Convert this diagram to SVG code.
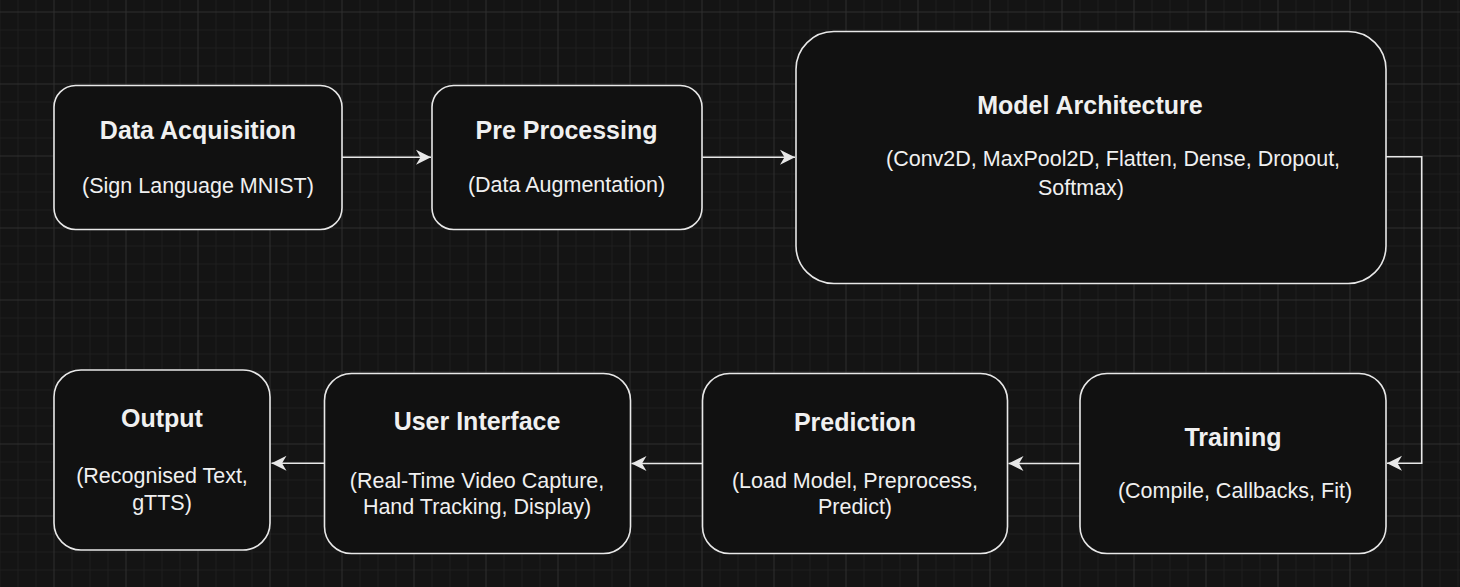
<svg xmlns="http://www.w3.org/2000/svg" width="1460" height="587" viewBox="0 0 1460 587">
  <style>
    .box { fill: #111111; stroke: #e8e8e8; stroke-width: 1.6; }
    .title { font-family: "Liberation Sans", Arial, Helvetica, sans-serif; font-weight: bold; font-size: 25px; fill: #f0f0f0; text-anchor: middle; }
    .sub { font-family: "Liberation Sans", Arial, Helvetica, sans-serif; font-size: 21.5px; fill: #f0f0f0; text-anchor: middle; }
    .subl { font-family: "Liberation Sans", Arial, Helvetica, sans-serif; font-size: 21.5px; fill: #f0f0f0; }
    .conn { fill: none; stroke: #e8e8e8; stroke-width: 1.6; marker-end: url(#arrow); }
  </style>
  <defs>
    <pattern id="grid" patternUnits="userSpaceOnUse" x="53.5" y="11.5" width="72" height="72">
      <path d="M18.5 0 V72 M36.5 0 V72 M54.5 0 V72 M0 18.5 H72 M0 36.5 H72 M0 54.5 H72" stroke="#1e1e1e" stroke-width="1" fill="none"/>
      <path d="M0.5 0 V72 M0 0.5 H72" stroke="#2e2e2e" stroke-width="1" fill="none"/>
    </pattern>
    <marker id="arrow" markerUnits="userSpaceOnUse" viewBox="-16 -8 17 16" refX="0" refY="0" markerWidth="17" markerHeight="16" orient="auto">
      <path d="M0 0 L-15 -7.5 L-10.5 0 L-15 7.5 Z" fill="#e8e8e8"/>
    </marker>
  </defs>
  <rect width="1460" height="587" fill="#141414"/>
  <rect width="1460" height="587" fill="url(#grid)"/>

  <g id="connectors">
    <path class="conn" d="M342 157.3 L431 157.3"/>
    <path class="conn" d="M702.3 157.3 L795 157.3"/>
    <path class="conn" d="M1386 156.7 L1421.7 156.7 L1421.7 463.3 L1387 463.3"/>
    <path class="conn" d="M1080 463.5 L1008.5 463.5"/>
    <path class="conn" d="M702.5 463.5 L631.5 463.5"/>
    <path class="conn" d="M324.5 463.3 L271.5 463.3"/>
  </g>

  <g id="data-acquisition">
    <rect class="box" x="54" y="85.5" width="288" height="144" rx="21.6"/>
    <text class="title" x="198" y="138.5">Data Acquisition</text>
    <text class="sub" x="198" y="192.5">(Sign Language MNIST)</text>
  </g>

  <g id="pre-processing">
    <rect class="box" x="432" y="85.5" width="270" height="144" rx="21.6"/>
    <text class="title" x="566.5" y="139">Pre Processing</text>
    <text class="sub" x="566.5" y="191.7">(Data Augmentation)</text>
  </g>

  <g id="model-architecture">
    <rect class="box" x="796" y="31.5" width="590" height="252" rx="37.8"/>
    <text class="title" x="1090" y="114">Model Architecture</text>
    <text class="subl" x="886" y="166">(Conv2D, MaxPool2D, Flatten, Dense, Dropout,</text>
    <text class="subl" x="1038" y="195">Softmax)</text>
  </g>

  <g id="training">
    <rect class="box" x="1080" y="373.5" width="306" height="180" rx="27"/>
    <text class="title" x="1233" y="446">Training</text>
    <text class="sub" x="1235" y="497.7">(Compile, Callbacks, Fit)</text>
  </g>

  <g id="prediction">
    <rect class="box" x="702.5" y="373.5" width="305" height="180" rx="27"/>
    <text class="title" x="855" y="431">Prediction</text>
    <text class="sub" x="855" y="488.3">(Load Model, Preprocess,</text>
    <text class="sub" x="855" y="514.3">Predict)</text>
  </g>

  <g id="user-interface">
    <rect class="box" x="324.5" y="373.5" width="306" height="180" rx="27"/>
    <text class="title" x="477" y="430">User Interface</text>
    <text class="sub" x="477" y="488.3">(Real-Time Video Capture,</text>
    <text class="sub" x="477" y="514.3">Hand Tracking, Display)</text>
  </g>

  <g id="output">
    <rect class="box" x="54" y="370" width="216" height="180" rx="27"/>
    <text class="title" x="162" y="426.7">Output</text>
    <text class="sub" x="162" y="483">(Recognised Text,</text>
    <text class="sub" x="162" y="510">gTTS)</text>
  </g>
</svg>
